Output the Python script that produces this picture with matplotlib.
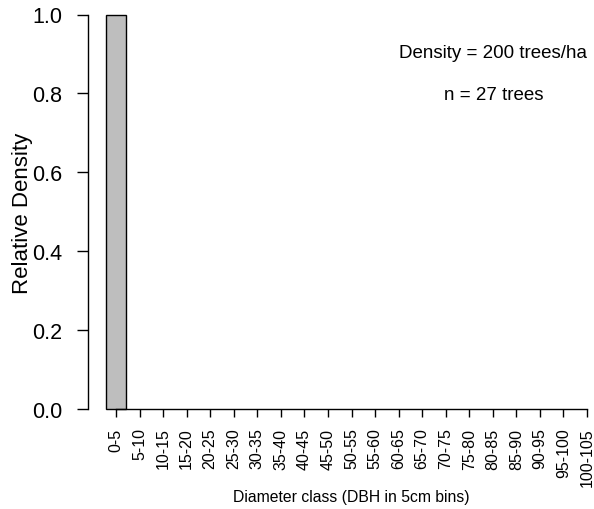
import matplotlib
matplotlib.use("Agg")
import matplotlib.pyplot as plt

plt.rcParams['font.family'] = ['Liberation Sans', 'DejaVu Sans']

# Diameter classes (5 cm bins) and relative density per class
classes = ["0-5", "5-10", "10-15", "15-20", "20-25", "25-30", "30-35", "35-40",
           "40-45", "45-50", "50-55", "55-60", "60-65", "65-70", "70-75", "75-80",
           "80-85", "85-90", "90-95", "95-100", "100-105"]
rel_density = [1.0, 0, 0, 0, 0, 0, 0, 0, 0, 0, 0, 0, 0, 0, 0, 0, 0, 0, 0, 0, 0]
y_ticks = [0.0, 0.2, 0.4, 0.6, 0.8, 1.0]
stand_density = 200
n_trees = 27

W, H = 594, 510
DPI = 100
fig = plt.figure(figsize=(W / DPI, H / DPI), dpi=DPI)
px = 72 / DPI  # one pixel in points

# plot region in pixels (edges on pixel centres so the axis lines stay crisp)
left_px, right_px, top_px, bottom_px = 87.5, 592, 15.5, 409.5
ax = fig.add_axes([left_px / W, 1 - bottom_px / H,
                   (right_px - left_px) / W, (bottom_px - top_px) / H])

first_px, step_px = 116.0, 23.55
xs = list(range(len(classes)))
# empty classes collapse onto the axis line, so they get no outline of their own
edges = ["black" if v > 0 else "none" for v in rel_density]
ax.bar(xs, rel_density, width=1 / 1.2, color="#bebebe", edgecolor=edges,
       linewidth=1.0, clip_on=False, zorder=3)

ax.set_xlim((left_px - first_px) / step_px, (right_px - first_px) / step_px)
ax.set_ylim(0, 1.0)

for s in ("top", "right"):
    ax.spines[s].set_visible(False)
ax.spines["left"].set_bounds(0, 1.0)
ax.spines["bottom"].set_bounds(0, len(classes) - 1)
ax.spines["left"].set_linewidth(1.0)
ax.spines["bottom"].set_linewidth(1.0)
ax.spines["bottom"].set_zorder(4)

ax.set_yticks(y_ticks)
ax.set_yticklabels([f"{v:.1f}" for v in y_ticks], fontsize=15.5)
ax.tick_params(axis="y", length=11 * px, width=1.0, pad=14 * px)
ax.set_xticks(xs)
ax.set_xticklabels(classes, rotation=90, fontsize=11.5)
ax.tick_params(axis="x", length=8 * px, width=1.0, pad=11 * px)

ax.set_ylabel("Relative Density", fontsize=16, labelpad=0)
ax.yaxis.set_label_coords(23 / W, 1 - 213 / H, transform=fig.transFigure)
ax.yaxis.label.set_va("center")
ax.set_xlabel("Diameter class (DBH in 5cm bins)", fontsize=11.3)
ax.xaxis.set_label_coords(351 / W, 1 - 498 / H, transform=fig.transFigure)
ax.xaxis.label.set_va("center")

fig.text(493 / W, 1 - 53 / H, f"Density = {stand_density} trees/ha",
         ha="center", va="center", fontsize=13.5)
fig.text(494 / W, 1 - 96 / H, f"n = {n_trees} trees",
         ha="center", va="center", fontsize=13.5)

fig.savefig("out.png", dpi=DPI)
